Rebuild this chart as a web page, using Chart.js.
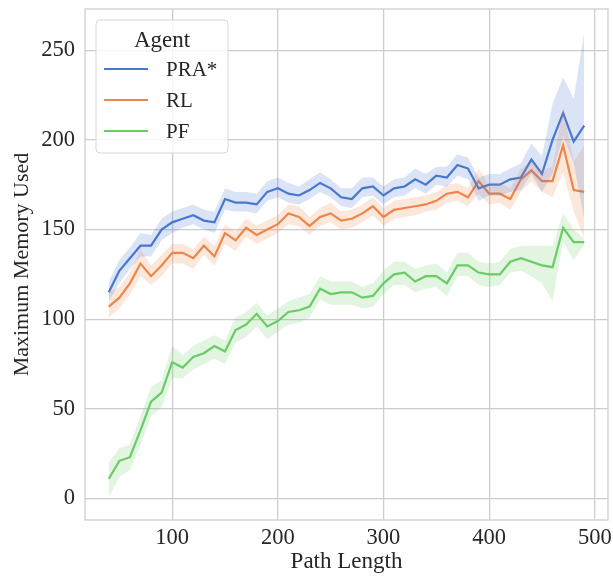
<!DOCTYPE html>
<html>
<head>
<meta charset="utf-8">
<script src="https://cdn.jsdelivr.net/npm/chart.js@4.4.1/dist/chart.umd.min.js"></script>
<style>
  html, body { margin: 0; padding: 0; background: #fff; }
  #wrap { width: 613px; height: 581px; }
</style>
</head>
<body>
<div id="wrap"><canvas id="grafico" width="613" height="581"></canvas></div>
<script>
// Path length values on the x axis
const pathLength = [40, 50, 60, 70, 80, 90, 100, 110, 120, 130, 140, 150, 160, 170, 180, 190,
  200, 210, 220, 230, 240, 250, 260, 270, 280, 290, 300, 310, 320, 330, 340, 350, 360, 370,
  380, 390, 400, 410, 420, 430, 440, 450, 460, 470, 480, 490];

// PRA* mean + confidence band
const praMean = [115, 127, 134, 141, 141, 150, 154, 156, 158, 155, 154, 167, 165, 165, 164, 171,
  173, 170, 169, 172, 176, 173, 168, 167, 173, 174, 169, 173, 174, 178, 175, 180, 179, 186,
  184, 173, 175, 175, 178, 179, 189, 181, 200, 215, 199, 208];
const praLow = [110, 120, 128, 135, 135, 144, 148, 151, 153, 150, 148, 161, 160, 160, 159, 166,
  168, 165, 164, 167, 171, 168, 163, 162, 168, 169, 164, 168, 169, 173, 170, 175, 174, 180,
  178, 166, 169, 169, 171, 172, 181, 171, 181, 202, 187, 156];
const praHigh = [121, 133, 140, 148, 147, 156, 160, 162, 164, 161, 160, 173, 171, 171, 170, 177,
  179, 176, 174, 178, 182, 178, 173, 173, 179, 179, 174, 178, 179, 184, 181, 185, 185, 192,
  190, 179, 181, 181, 184, 187, 198, 191, 220, 235, 223, 260];

// RL mean + confidence band
const rlMean = [107, 112, 120, 131, 124, 130, 137, 137, 134, 141, 135, 148, 144, 151, 147, 150,
  153, 159, 157, 152, 157, 159, 155, 156, 159, 163, 157, 161, 162, 163, 164, 166, 170, 171,
  168, 177, 170, 170, 167, 178, 183, 177, 177, 197, 172, 171];
const rlLow = [101, 106, 114, 124, 119, 124, 131, 131, 128, 136, 130, 142, 138, 146, 142, 145,
  148, 153, 152, 147, 152, 154, 150, 151, 154, 158, 152, 156, 157, 158, 160, 161, 165, 166,
  163, 170, 164, 165, 161, 171, 177, 171, 168, 182, 160, 145];
const rlHigh = [115, 118, 126, 139, 130, 136, 142, 142, 139, 146, 141, 153, 149, 156, 152, 155,
  158, 164, 163, 157, 162, 165, 160, 161, 164, 168, 162, 166, 167, 168, 169, 171, 175, 176,
  173, 184, 175, 176, 173, 184, 188, 183, 185, 218, 188, 197];

// PF mean + confidence band
const pfMean = [11, 21, 23, 38, 54, 59, 76, 73, 79, 81, 85, 82, 94, 97, 103, 96,
  99, 104, 105, 107, 117, 114, 115, 115, 112, 113, 120, 125, 126, 121, 124, 124, 120, 130,
  130, 126, 125, 125, 132, 134, 132, 130, 129, 151, 143, 143];
const pfLow = [1, 12, 16, 30, 46, 51, 67, 67, 72, 75, 78, 75, 87, 90, 96, 89,
  93, 97, 98, 101, 111, 108, 108, 108, 106, 107, 114, 119, 119, 115, 117, 118, 113, 124,
  124, 119, 118, 119, 126, 127, 124, 120, 110, 143, 133, 141];
const pfHigh = [20, 28, 30, 46, 62, 66, 85, 80, 85, 88, 91, 88, 101, 104, 109, 102,
  106, 110, 112, 114, 124, 121, 121, 121, 118, 120, 127, 132, 132, 128, 130, 131, 126, 137,
  137, 132, 131, 132, 139, 141, 141, 141, 141, 159, 150, 145];

const agentNames = ['PRA*', 'RL', 'PF'];
const xTicks = [100, 200, 300, 400, 500];
const yTicks = [0, 50, 100, 150, 200, 250];

const cores = ['#4878d0', '#ee854a', '#6acc64'];
const coresBanda = ['rgba(72,120,208,0.2)', 'rgba(238,133,74,0.2)', 'rgba(106,204,100,0.2)'];

const pontos = arr => arr.map((v, i) => ({ x: pathLength[i], y: v }));

const series = [
  [praMean, praLow, praHigh],
  [rlMean, rlLow, rlHigh],
  [pfMean, pfLow, pfHigh]
];

const datasets = [];
// bandas primeiro (ficam por baixo)
series.forEach((s, k) => {
  datasets.push({
    label: agentNames[k] + ' hi', data: pontos(s[2]), fill: '+1',
    backgroundColor: coresBanda[k], borderWidth: 0, pointRadius: 0, tension: 0
  });
  datasets.push({
    label: agentNames[k] + ' lo', data: pontos(s[1]), fill: false,
    backgroundColor: coresBanda[k], borderWidth: 0, pointRadius: 0, tension: 0
  });
});
series.forEach((s, k) => {
  datasets.push({
    label: agentNames[k], data: pontos(s[0]), fill: false,
    borderColor: cores[k], backgroundColor: cores[k], borderWidth: 2.2,
    pointRadius: 0, tension: 0
  });
});

const fonte = 'Liberation Serif, Times New Roman, serif';
const corTexto = '#262626';
const corGrade = '#cccccc';

// moldura e legenda desenhadas à mão
const molduraLegenda = {
  id: 'molduraLegenda',
  afterDraw(chart) {
    const { ctx, chartArea: a } = chart;
    ctx.save();
    ctx.strokeStyle = corGrade;
    ctx.lineWidth = 1.25;
    ctx.strokeRect(a.left, a.top, a.right - a.left, a.bottom - a.top);

    const bx = a.left + 11, by = a.top + 11, bw = 132, bh = 133, r = 4;
    ctx.beginPath();
    ctx.moveTo(bx + r, by);
    ctx.arcTo(bx + bw, by, bx + bw, by + bh, r);
    ctx.arcTo(bx + bw, by + bh, bx, by + bh, r);
    ctx.arcTo(bx, by + bh, bx, by, r);
    ctx.arcTo(bx, by, bx + bw, by, r);
    ctx.closePath();
    ctx.fillStyle = 'rgba(255,255,255,0.8)';
    ctx.fill();
    ctx.strokeStyle = '#d6d6d6';
    ctx.lineWidth = 1;
    ctx.stroke();

    ctx.fillStyle = corTexto;
    ctx.textAlign = 'center';
    ctx.textBaseline = 'alphabetic';
    ctx.font = '23px ' + fonte;
    ctx.fillText('Agent', bx + 66, by + 27);

    ctx.textAlign = 'left';
    ctx.font = '21px ' + fonte;
    agentNames.forEach((nome, k) => {
      const ly = by + 49 + k * 31;
      ctx.strokeStyle = cores[k];
      ctx.lineWidth = 2.2;
      ctx.beginPath();
      ctx.moveTo(bx + 8, ly);
      ctx.lineTo(bx + 52, ly);
      ctx.stroke();
      ctx.fillStyle = corTexto;
      ctx.fillText(nome, bx + 70, ly + 7);
    });
    ctx.restore();
  }
};

const ctx = document.getElementById('grafico').getContext('2d');
const grafico = new Chart(ctx, {
  type: 'line',
  data: { datasets: datasets },
  options: {
    responsive: false,
    animation: false,
    layout: { padding: { top: 9, right: 5, left: 0, bottom: 0 } },
    scales: {
      x: {
        type: 'linear',
        min: 17.5,
        max: 512.5,
        afterBuildTicks: s => { s.ticks = xTicks.map(v => ({ value: v })); },
        afterFit: s => { s.height = 61; s.paddingLeft = 0; s.paddingRight = 0; },
        ticks: { color: corTexto, font: { family: fonte, size: 22.5 }, padding: 5, maxRotation: 0 },
        grid: { color: corGrade, lineWidth: 1.25, drawTicks: false },
        border: { display: false },
        title: { display: true, text: 'Path Length', color: corTexto,
          font: { family: fonte, size: 23 }, padding: { top: 0, bottom: 5 } }
      },
      y: {
        type: 'linear',
        min: -12,
        max: 273,
        afterBuildTicks: s => { s.ticks = yTicks.map(v => ({ value: v })); },
        afterFit: s => { s.width = 85; s.paddingTop = 0; s.paddingBottom = 0; },
        ticks: { color: corTexto, font: { family: fonte, size: 22.5 }, padding: 10 },
        grid: { color: corGrade, lineWidth: 1.25, drawTicks: false },
        border: { display: false },
        title: { display: true, text: 'Maximum Memory Used', color: corTexto,
          font: { family: fonte, size: 22 }, padding: { top: 9, bottom: 0 } }
      }
    },
    plugins: {
      legend: { display: false },
      tooltip: { enabled: false },
      filler: { propagate: false }
    }
  },
  plugins: [molduraLegenda]
});
</script>
</body>
</html>
